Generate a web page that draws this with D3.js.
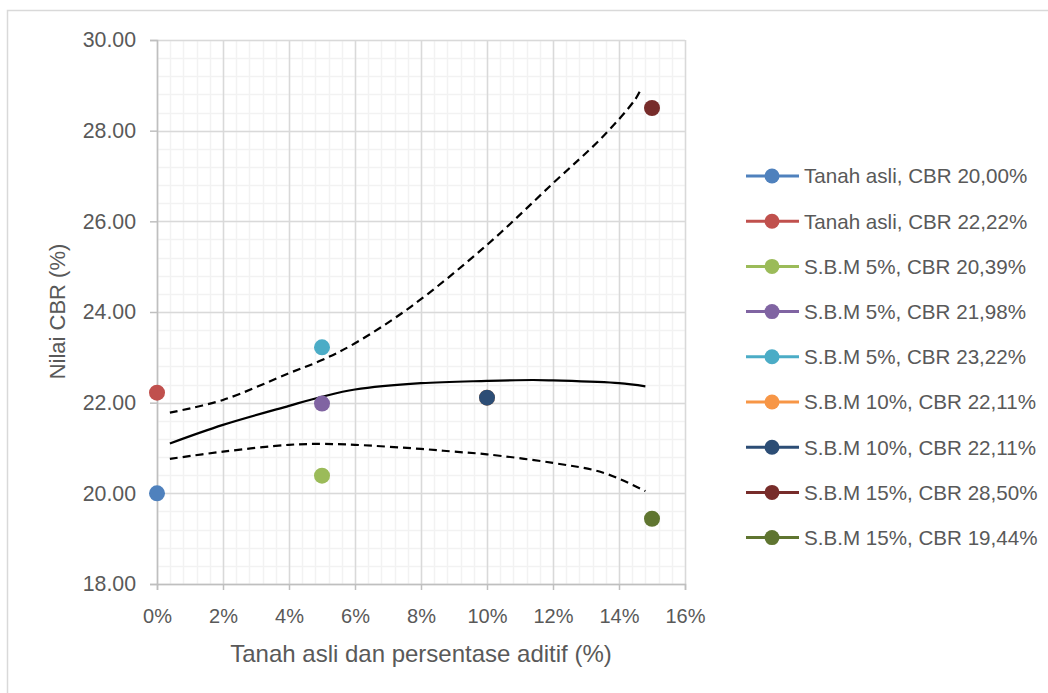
<!DOCTYPE html>
<html>
<head>
<meta charset="utf-8">
<script src="https://cdn.jsdelivr.net/npm/d3@7"></script>
<style>
  html, body { margin: 0; padding: 0; background: #ffffff; }
  svg { display: block; font-family: "Liberation Sans", Arial, sans-serif; }
</style>
</head>
<body>
<svg id="chart" width="1048" height="693"></svg>
<script>
// Series labels, additive content (fraction) and CBR values (%)
const seriesNames = [
  "Tanah asli, CBR 20,00%",
  "Tanah asli, CBR 22,22%",
  "S.B.M 5%, CBR 20,39%",
  "S.B.M 5%, CBR 21,98%",
  "S.B.M 5%, CBR 23,22%",
  "S.B.M 10%, CBR 22,11%",
  "S.B.M 10%, CBR 22,11%",
  "S.B.M 15%, CBR 28,50%",
  "S.B.M 15%, CBR 19,44%"
];
const additive = [0, 0, 0.05, 0.05, 0.05, 0.10, 0.10, 0.15, 0.15];
const cbrValues = [20.00, 22.22, 20.39, 21.98, 23.22, 22.11, 22.11, 28.50, 19.44];
const seriesColors = ["#4F81BD", "#C0504D", "#9BBB59", "#8064A2", "#4BACC6",
                      "#F79646", "#2C4D75", "#772C2A", "#5F7530"];

// Fitted trend and its band, as [additive %, CBR %]
const trendLine = [[0.39, 21.10], [2, 21.51], [4, 21.93], [5, 22.13], [6, 22.29],
  [8, 22.43], [10, 22.48], [11.4, 22.50], [12, 22.49], [14, 22.43], [14.8, 22.36]];
const lowerBand = [[0.39, 20.76], [2, 20.92], [4, 21.07], [5, 21.09], [6, 21.07],
  [8, 20.98], [9, 20.92], [10, 20.86], [12, 20.67], [13.5, 20.46], [14.8, 20.05]];
const upperBand = [[0.39, 21.78], [2, 22.06], [4, 22.65], [5, 22.94], [6, 23.31],
  [7.7, 24.12], [10, 25.48], [12, 26.84], [13.5, 27.86], [14.5, 28.70], [14.69, 28.96]];

// Axis ticks
const xTicks = [0, 0.02, 0.04, 0.06, 0.08, 0.10, 0.12, 0.14, 0.16];
const yTicks = [18, 20, 22, 24, 26, 28, 30];

const svg = d3.select("#chart");
const textColor = "#595959";

// Outer chart frame
svg.append("rect")
  .attr("x", 7.5).attr("y", 10.5)
  .attr("width", 1100).attr("height", 800)
  .attr("fill", "#ffffff").attr("stroke", "#D9D9D9").attr("stroke-width", 1.5);

const x = d3.scaleLinear().domain([0, 0.16]).range([157, 685]);
const y = d3.scaleLinear().domain([18, 30]).range([584, 40]);

// Minor grid
const minorX = d3.range(0, 0.16 + 1e-9, 0.004);
const minorY = d3.range(18, 30 + 1e-9, 0.4);
const grid = svg.append("g");
grid.selectAll("line.mx").data(minorX).join("line")
  .attr("x1", d => Math.round(x(d)) + 0.5).attr("x2", d => Math.round(x(d)) + 0.5)
  .attr("y1", y(30)).attr("y2", y(18))
  .attr("stroke", "#F2F2F2").attr("stroke-width", 1.5);
grid.selectAll("line.my").data(minorY).join("line")
  .attr("y1", d => Math.round(y(d)) + 0.5).attr("y2", d => Math.round(y(d)) + 0.5)
  .attr("x1", x(0)).attr("x2", x(0.16))
  .attr("stroke", "#F2F2F2").attr("stroke-width", 1.5);
// Major grid
grid.selectAll("line.Mx").data(xTicks).join("line")
  .attr("x1", d => Math.round(x(d)) + 0.5).attr("x2", d => Math.round(x(d)) + 0.5)
  .attr("y1", y(30)).attr("y2", y(18))
  .attr("stroke", "#D9D9D9").attr("stroke-width", 1.5);
grid.selectAll("line.My").data(yTicks).join("line")
  .attr("y1", d => Math.round(y(d)) + 0.5).attr("y2", d => Math.round(y(d)) + 0.5)
  .attr("x1", x(0)).attr("x2", x(0.16))
  .attr("stroke", "#D9D9D9").attr("stroke-width", 1.5);

// Axes
const xAxis = svg.append("g").attr("transform", `translate(0,${y(18)})`)
  .call(d3.axisBottom(x).tickValues(xTicks).tickFormat(d3.format(".0%"))
    .tickSize(6).tickPadding(19));
const yAxis = svg.append("g").attr("transform", `translate(${x(0)},0)`)
  .call(d3.axisLeft(y).tickValues(yTicks).tickFormat(d3.format(".2f"))
    .tickSize(7).tickPadding(14));
[xAxis, yAxis].forEach(a => {
  a.select(".domain").attr("stroke", "#BFBFBF").attr("stroke-width", 1.5);
  a.selectAll(".tick line").attr("stroke", "#BFBFBF").attr("stroke-width", 1.5);
  a.selectAll(".tick text").attr("fill", textColor)
    .style("font-family", "'Liberation Sans', Arial, sans-serif");
});
xAxis.selectAll(".tick text").style("font-size", "20px");
yAxis.selectAll(".tick text").style("font-size", "21.3px");

// Trend curves
const lx = d3.scaleLinear().domain([0, 16]).range([157, 685]);
const line = d3.line().x(d => lx(d[0])).y(d => y(d[1])).curve(d3.curveCatmullRom.alpha(0.5));
svg.append("path").datum(trendLine).attr("d", line)
  .attr("fill", "none").attr("stroke", "#000").attr("stroke-width", 2.2);
[lowerBand, upperBand].forEach(b => {
  svg.append("path").datum(b).attr("d", line)
    .attr("fill", "none").attr("stroke", "#000").attr("stroke-width", 2.2)
    .attr("stroke-dasharray", "8,5");
});

// Data points
svg.append("g").selectAll("circle").data(seriesNames.map((n, i) => i)).join("circle")
  .attr("cx", i => x(additive[i])).attr("cy", i => y(cbrValues[i]))
  .attr("r", 8).attr("fill", i => seriesColors[i]);

// Axis titles
svg.append("text").attr("x", 421).attr("y", 662)
  .attr("text-anchor", "middle").attr("fill", textColor).style("font-size", "24px")
  .text("Tanah asli dan persentase aditif (%)");
svg.append("text").attr("transform", "translate(64.5,311.5) rotate(-90)")
  .attr("text-anchor", "middle").attr("fill", textColor).style("font-size", "22px")
  .text("Nilai CBR (%)");

// Legend
const legend = svg.append("g");
seriesNames.forEach((name, i) => {
  const ry = 176 + i * 45.2;
  const g = legend.append("g").attr("transform", `translate(0,${ry})`);
  g.append("line").attr("x1", 746).attr("x2", 799).attr("y1", 0).attr("y2", 0)
    .attr("stroke", seriesColors[i]).attr("stroke-width", 3);
  g.append("circle").attr("cx", 772).attr("cy", 0).attr("r", 7.5).attr("fill", seriesColors[i]);
  g.append("text").attr("x", 804).attr("y", 0).attr("dy", "0.36em")
    .attr("fill", textColor).style("font-size", "20.6px").text(name);
});
</script>
</body>
</html>
